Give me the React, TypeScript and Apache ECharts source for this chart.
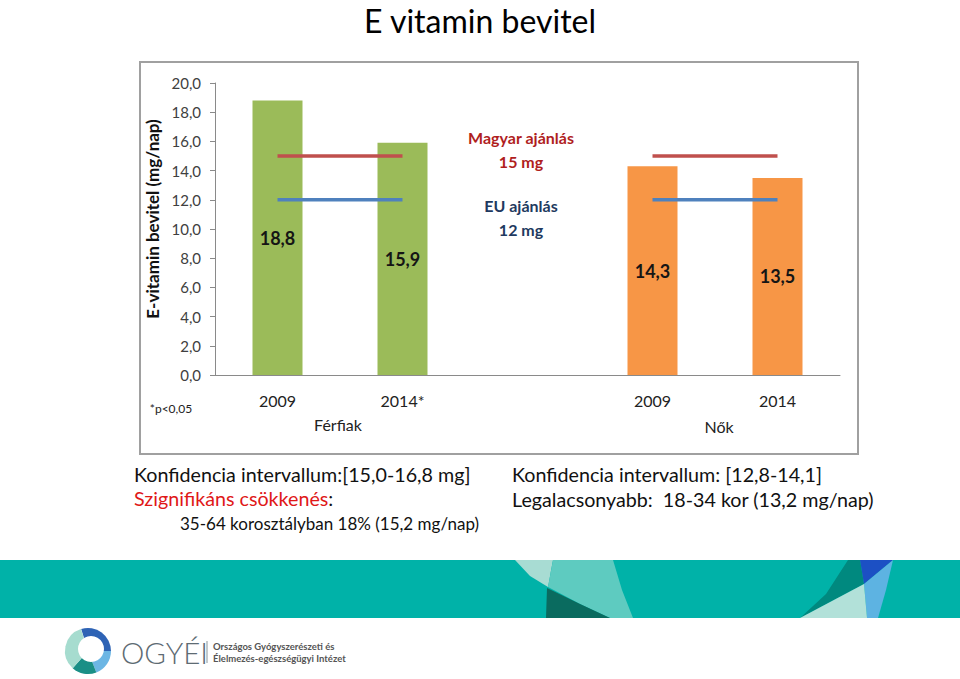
import React, { useEffect, useRef } from "react";
import * as echarts from "echarts";

const categories = ["2009", "2014*", "", "2009", "2014"];
const intake = [18.8, 15.9, null, 14.3, 13.5];
const groups = ["men", "men", "", "women", "women"];
const huRecommendation = [15, 15, null, 15, 15];
const euRecommendation = [12, 12, null, 12, 12];

const FONT = 'Lato, "Open Sans", sans-serif';
const GREEN = "#9BBB59";
const ORANGE = "#F79646";
const RED = "#C0504D";
const BLUE = "#4F81BD";

const fmt = (v: number) => v.toFixed(1).replace(".", ",");

export default function App() {
  const ref = useRef<HTMLDivElement>(null);
  useEffect(() => {
    document.body.style.margin = "0";
    const chart = echarts.init(ref.current!, null, { renderer: "svg" });
    const txt = (x: number, y: number, text: string, o: any = {}) => ({
      type: "text",
      x,
      y,
      style: {
        text,
        fontFamily: FONT,
        fontSize: o.size || 16,
        fontWeight: o.weight || "normal",
        fill: o.fill || "#111",
        align: o.align || "left",
        verticalAlign: "middle",
        rich: o.rich,
      },
      z: 10,
    });
    chart.setOption({
      animation: false,
      backgroundColor: "#fff",
      textStyle: { fontFamily: FONT },
      grid: { left: 215, top: 83, width: 625, height: 292 },
      xAxis: {
        type: "category",
        data: categories,
        axisLine: { lineStyle: { color: "#8A8A8A", width: 1 } },
        axisTick: { show: false },
        axisLabel: { fontSize: 16, color: "#222", margin: 17, fontFamily: FONT },
      },
      yAxis: {
        type: "value",
        min: 0,
        max: 20,
        interval: 2,
        splitLine: { show: false },
        axisLine: { show: true, lineStyle: { color: "#8A8A8A", width: 1 } },
        axisTick: { show: true, length: 5, lineStyle: { color: "#8A8A8A" } },
        axisLabel: { fontSize: 15, color: "#404040", margin: 14, formatter: fmt, fontFamily: FONT },
        name: "E-vitamin bevitel (mg/nap)",
        nameLocation: "middle",
        nameGap: 50,
        nameTextStyle: {
          fontSize: 17,
          fontWeight: "bold",
          color: "#111",
          fontFamily: FONT,
          padding: [0, 0, 0, 20],
        },
      },
      series: [
        {
          type: "bar",
          barWidth: 50,
          data: intake.map((v, i) =>
            v == null
              ? null
              : { value: v, itemStyle: { color: groups[i] === "men" ? GREEN : ORANGE } }
          ),
          label: {
            show: true,
            position: "inside",
            formatter: (p: any) => fmt(p.value),
            fontSize: 18,
            fontWeight: "bold",
            color: "#151515",
            fontFamily: FONT,
          },
          z: 2,
        },
        {
          type: "line",
          name: "Magyar ajánlás",
          data: huRecommendation,
          symbol: "none",
          connectNulls: false,
          lineStyle: { color: RED, width: 3.5 },
          z: 3,
        },
        {
          type: "line",
          name: "EU ajánlás",
          data: euRecommendation,
          symbol: "none",
          connectNulls: false,
          lineStyle: { color: BLUE, width: 3.5 },
          z: 3,
        },
      ],
      graphic: [
        {
          type: "rect",
          shape: { x: 140, y: 62, width: 718, height: 392 },
          style: { fill: "none", stroke: "#A0A0A0", lineWidth: 2 },
          z: -1,
        },
        txt(480, 20, "E vitamin bevitel", { size: 32, align: "center", fill: "#000" }),
        txt(521, 137, "Magyar ajánlás", { size: 16, weight: "bold", fill: "#B01E1E", align: "center" }),
        txt(521, 161, "15 mg", { size: 16, weight: "bold", fill: "#B01E1E", align: "center" }),
        txt(521, 205, "EU ajánlás", { size: 16, weight: "bold", fill: "#1F3A60", align: "center" }),
        txt(521, 229, "12 mg", { size: 16, weight: "bold", fill: "#1F3A60", align: "center" }),
        txt(338, 424, "Férfiak", { size: 16, align: "center", fill: "#222" }),
        txt(719, 426, "Nők", { size: 16, align: "center", fill: "#222" }),
        txt(171, 408, "*p<0,05", { size: 12, align: "center", fill: "#222" }),
        txt(134, 474, "Konfidencia intervallum:[15,0-16,8 mg]", { size: 19.7, fill: "#111" }),
        txt(134, 498, "{r|Szignifikáns csökkenés}:", {
          size: 19.7,
          fill: "#111",
          rich: { r: { fill: "#E01818", fontSize: 19.7, fontFamily: FONT } },
        }),
        txt(180, 523, "35-64 korosztályban 18% (15,2 mg/nap)", { size: 17, fill: "#111" }),
        txt(512, 474, "Konfidencia intervallum: [12,8-14,1]", { size: 19.7, fill: "#111" }),
        txt(512, 499, "Legalacsonyabb:  18-34 kor (13,2 mg/nap)", { size: 19.7, fill: "#111" }),
        // teal band
        { type: "rect", shape: { x: 0, y: 560, width: 960, height: 58 }, style: { fill: "#00B2A8" }, z: 1 },
        {
          type: "polygon",
          shape: { points: [[515, 560], [553, 560], [548, 587], [530, 576]] },
          style: { fill: "#A8DCD3" },
          z: 2,
        },
        {
          type: "polygon",
          shape: {
            points: [[553, 560], [613, 560], [622, 590], [633, 618], [610, 618], [580, 604], [548, 587]],
          },
          style: { fill: "#5ECBC0" },
          z: 2,
        },
        {
          type: "polygon",
          shape: { points: [[547, 588], [580, 604], [610, 618], [546, 618]] },
          style: { fill: "#0A6B5F" },
          z: 2,
        },
        {
          type: "polygon",
          shape: { points: [[800, 618], [826, 594], [848, 560], [860, 560], [864, 584], [832, 601]] },
          style: { fill: "#00897F" },
          z: 2,
        },
        {
          type: "polygon",
          shape: { points: [[860, 560], [893, 560], [864, 584]] },
          style: { fill: "#1C50C4" },
          z: 2,
        },
        {
          type: "polygon",
          shape: { points: [[893, 560], [886, 590], [878, 618], [867, 618], [864, 584]] },
          style: { fill: "#5DB3E2" },
          z: 2,
        },
        {
          type: "polygon",
          shape: { points: [[864, 584], [867, 618], [800, 618], [832, 601]] },
          style: { fill: "#B2E1D9" },
          z: 2,
        },
        // logo ring
        { type: "sector", shape: { cx: 88, cy: 651, r: 23, r0: 0, startAngle: -Math.PI / 2 - 0.3, endAngle: 0 }, style: { fill: "#2E63B5" }, z: 2 },
        { type: "sector", shape: { cx: 88, cy: 651, r: 23, r0: 0, startAngle: 0, endAngle: 1.2 }, style: { fill: "#6CB6E4" }, z: 2 },
        { type: "sector", shape: { cx: 88, cy: 651, r: 23, r0: 0, startAngle: 1.2, endAngle: 2.3 }, style: { fill: "#1A8F86" }, z: 2 },
        { type: "sector", shape: { cx: 88, cy: 651, r: 23, r0: 0, startAngle: 2.3, endAngle: 4.4 }, style: { fill: "#A6DCCF" }, z: 2 },
        { type: "circle", shape: { cx: 91, cy: 649, r: 13 }, style: { fill: "#fff" }, z: 3 },
        txt(121, 652, "OGYÉI", { size: 29.5, fill: "#5E6B73", weight: 300 }),
        { type: "line", shape: { x1: 207, y1: 641, x2: 207, y2: 663 }, style: { stroke: "#8A959B", lineWidth: 1 }, z: 2 },
        txt(213, 646, "Országos Gyógyszerészeti és", { size: 9.5, fill: "#555", weight: "bold" }),
        txt(213, 658, "Élelmezés-egészségügyi Intézet", { size: 9.5, fill: "#555", weight: "bold" }),
      ],
    });
    return () => chart.dispose();
  }, []);
  return <div ref={ref} style={{ width: 960, height: 679 }} />;
}
